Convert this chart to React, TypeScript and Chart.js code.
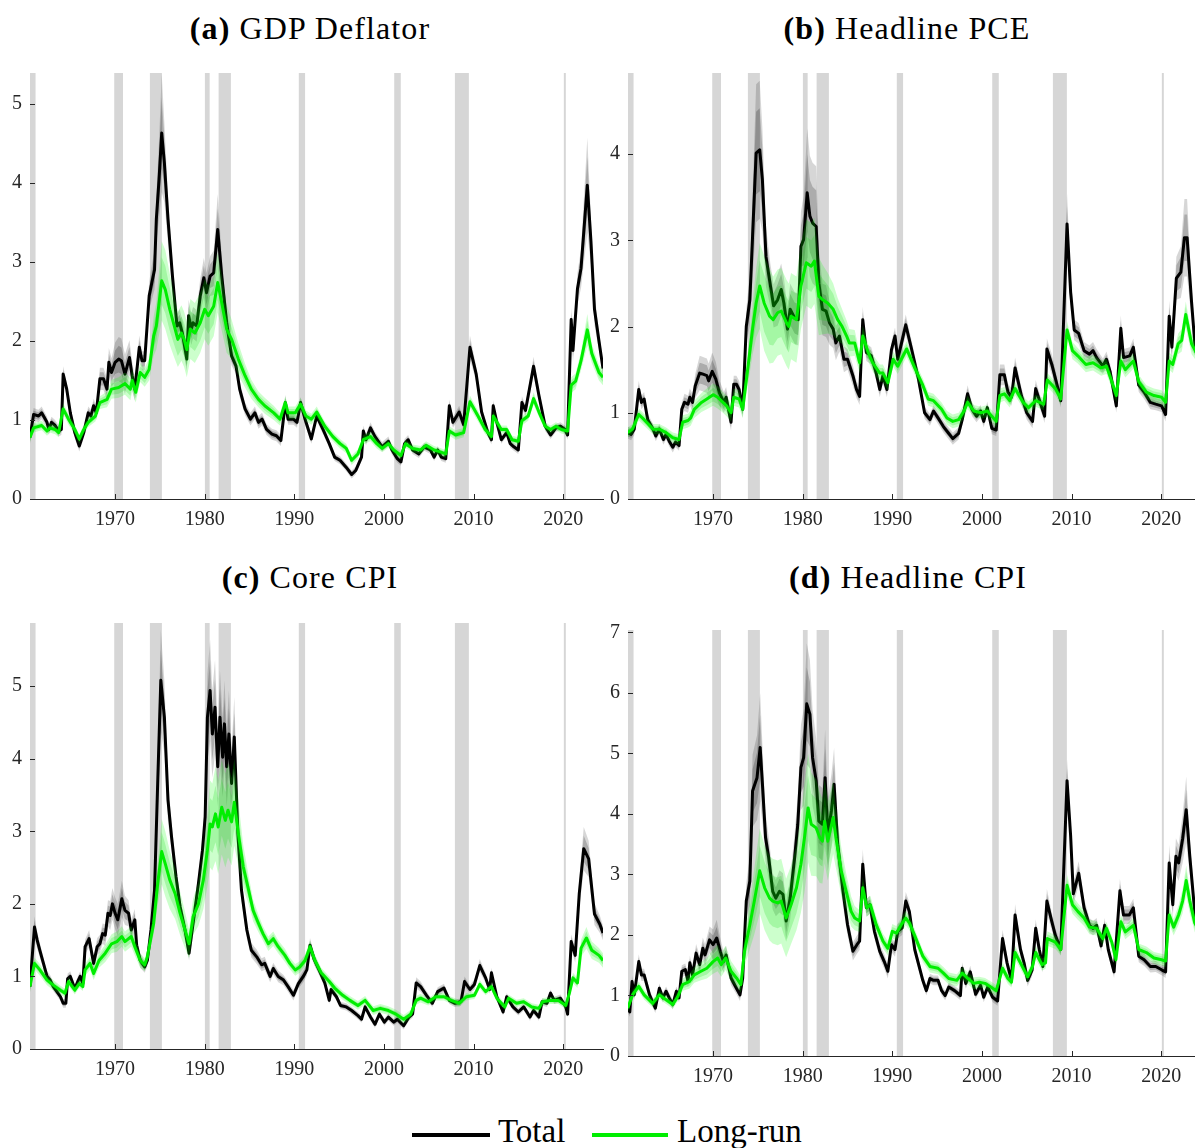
import React, { useEffect, useRef } from 'react';
import { Chart, registerables } from 'chart.js';

Chart.register(...registerables);

// ---------- shared ----------
const RECESSIONS: number[][] = [
  [1960.25, 1961.12], [1969.9, 1970.88], [1973.88, 1975.22], [1980.02, 1980.55],
  [1981.55, 1982.92], [1990.5, 1991.2], [2001.15, 2001.88], [2007.92, 2009.48], [2020.08, 2020.3],
];
const X_TICKS = [1970, 1980, 1990, 2000, 2010, 2020];
const X_MIN = 1960.5;
const X_MAX = 2024.45;
const INNER = 0.6; // inner (68%) band relative to outer (90%) band

// ---------- (a) GDP Deflator ----------
const yearsTotalA = [1960.5,1960.9,1961.45,1961.8,1962.4,1962.6,1962.9,1963.3,1963.7,1964.0,
1964.2,1964.6,1965.0,1965.5,1966.0,1966.5,1967.0,1967.3,1967.6,1967.9,
1968.3,1968.7,1969.1,1969.3,1969.6,1970.0,1970.4,1970.7,1971.1,1971.6,
1971.9,1972.2,1972.7,1973.0,1973.3,1973.8,1974.1,1974.4,1974.6,1974.9,
1975.2,1975.5,1975.9,1976.4,1976.9,1977.2,1977.5,1978.0,1978.2,1978.5,
1978.7,1979.1,1979.5,1979.9,1980.2,1980.6,1981.0,1981.45,1981.9,1982.45,
1983.0,1983.5,1983.9,1984.5,1985.1,1985.6,1986.0,1986.4,1986.9,1987.5,
1988.0,1988.5,1989.0,1989.3,1989.9,1990.3,1990.7,1991.2,1991.9,1992.5,
1993.2,1993.9,1994.5,1995.1,1995.8,1996.4,1996.85,1997.5,1997.7,1998.0,
1998.5,1999.0,1999.8,2000.5,2000.9,2001.5,2001.9,2002.3,2002.7,2003.2,
2003.9,2004.5,2005.2,2005.6,2006.0,2006.4,2006.9,2007.3,2007.7,2008.4,
2008.9,2009.6,2010.3,2010.9,2011.6,2012.0,2012.2,2012.6,2013.1,2013.7,
2014.1,2014.5,2015.0,2015.4,2015.8,2016.7,2017.3,2018.0,2018.6,2019.2,
2019.7,2020.2,2020.5,2020.9,2021.1,2021.6,2022.0,2022.7,2023.1,2023.5,
2024.0,2024.45];
const totalA = [0.78,1.07,1.05,1.09,0.97,0.88,0.97,0.93,0.86,0.88,
1.58,1.39,1.09,0.84,0.67,0.84,1.09,1.05,1.18,1.09,
1.52,1.52,1.39,1.73,1.6,1.73,1.77,1.75,1.58,1.79,
1.56,1.39,1.92,1.75,1.75,2.57,2.74,2.9,3.54,4.04,
4.63,4.25,3.54,2.82,2.19,2.23,2.1,1.77,2.32,2.15,
2.23,2.19,2.57,2.8,2.61,2.82,2.86,3.41,2.82,2.23,
1.81,1.68,1.39,1.14,1.01,1.09,0.97,1.01,0.88,0.82,
0.8,0.74,1.22,1.01,1.01,0.97,1.22,1.01,0.76,1.05,
0.88,0.7,0.53,0.49,0.4,0.31,0.36,0.53,0.86,0.75,
0.9,0.79,0.66,0.73,0.62,0.51,0.47,0.7,0.75,0.62,
0.57,0.66,0.62,0.53,0.62,0.53,0.51,1.18,0.97,1.1,
0.94,1.92,1.58,1.1,0.84,0.75,1.18,0.97,0.75,0.84,
0.7,0.66,0.62,1.22,1.12,1.68,1.31,0.92,0.81,0.9,
0.92,0.88,0.81,2.27,1.88,2.66,2.92,3.97,3.27,2.4,
2.0,1.65];
const bandTotalA = [.08,.08,.08,.08,.07,.07,.07,.07,.07,.07,
.1,.09,.08,.07,.07,.07,.08,.08,.09,.09,
.14,.14,.14,.18,.18,.25,.28,.28,.25,.22,
.18,.15,.15,.12,.12,.18,.22,.25,.3,.5,
.75,.5,.3,.2,.15,.17,.17,.15,.2,.2,
.2,.2,.22,.25,.25,.25,.28,.45,.25,.15,
.12,.1,.1,.08,.08,.08,.08,.08,.07,.07,
.07,.07,.1,.07,.07,.07,.07,.07,.06,.06,
.06,.05,.05,.05,.05,.05,.05,.05,.07,.07,
.07,.06,.06,.06,.06,.05,.05,.06,.06,.05,
.05,.05,.05,.05,.05,.05,.05,.08,.07,.08,
.07,.15,.1,.07,.06,.06,.07,.06,.05,.05,
.05,.05,.05,.08,.07,.12,.08,.06,.05,.05,
.05,.05,.06,.15,.15,.2,.25,.6,.3,.2,
.12,.1];
const yearsLongA = [1960.5,1960.9,1961.8,1962.4,1962.7,1963.3,1963.7,1964.2,1964.8,1965.5,
1966.0,1966.5,1967.0,1967.8,1968.3,1969.1,1969.6,1970.4,1971.1,1971.7,
1971.9,1972.3,1972.8,1973.3,1973.8,1974.3,1974.6,1975.2,1975.6,1976.1,
1976.6,1977.0,1977.4,1977.7,1978.0,1978.4,1978.9,1979.5,1980.0,1980.4,
1981.0,1981.45,1981.9,1982.45,1983.0,1983.75,1984.5,1985.2,1986.0,1986.7,
1987.7,1988.4,1989.0,1989.3,1990.1,1990.7,1991.3,1991.9,1992.5,1993.4,
1994.3,1995.1,1995.8,1996.4,1997.1,1997.7,1998.5,1999.2,1999.8,2000.5,
2001.1,2001.9,2002.4,2003.2,2004.1,2004.7,2005.6,2006.2,2006.9,2007.3,
2008.0,2008.9,2009.6,2010.5,2011.3,2012.0,2012.2,2013.1,2013.7,2014.3,
2015.0,2015.4,2016.1,2016.7,2017.3,2018.0,2018.6,2019.2,2019.8,2020.5,
2020.9,2021.4,2022.0,2022.7,2023.2,2024.0,2024.45];
const longA = [0.78,0.9,0.93,0.86,0.9,0.88,0.84,1.14,1.01,0.88,
0.76,0.88,0.97,1.05,1.22,1.26,1.39,1.41,1.46,1.39,
1.5,1.35,1.6,1.54,1.64,2.06,2.19,2.76,2.65,2.4,
2.19,2.02,2.1,2.02,1.89,2.15,2.1,2.23,2.4,2.32,
2.44,2.74,2.48,2.15,2.02,1.77,1.56,1.39,1.26,1.18,
1.09,1.01,1.22,1.09,1.09,1.2,1.05,1.01,1.1,0.92,
0.79,0.7,0.64,0.49,0.57,0.75,0.79,0.7,0.64,0.7,
0.62,0.55,0.7,0.64,0.62,0.68,0.62,0.6,0.57,0.86,
0.81,0.84,1.23,1.05,0.88,0.79,1.05,0.88,0.88,0.75,
0.73,0.99,1.05,1.27,1.1,0.92,0.88,0.92,0.88,0.86,
1.44,1.49,1.75,2.14,1.84,1.6,1.54];
const bandLongA = [.06,.06,.06,.06,.06,.06,.06,.07,.07,.06,
.06,.06,.06,.07,.08,.1,.12,.13,.14,.14,
.14,.13,.12,.12,.14,.25,.3,.5,.5,.45,
.4,.35,.35,.35,.35,.38,.38,.38,.38,.38,
.38,.38,.35,.3,.25,.2,.15,.12,.1,.1,
.09,.08,.08,.08,.08,.08,.07,.07,.07,.06,
.06,.06,.06,.06,.06,.06,.06,.06,.05,.05,
.05,.05,.05,.05,.05,.05,.05,.05,.05,.06,
.06,.06,.08,.07,.06,.05,.06,.05,.05,.05,
.05,.06,.06,.08,.06,.05,.05,.05,.05,.05,
.1,.1,.12,.2,.12,.1,.1];

// ---------- (b) Headline PCE ----------
const yearsTotalB = [1960.47,1960.85,1961.2,1961.7,1962.0,1962.3,1962.7,1963.3,1963.6,1964.0,
1964.45,1964.75,1965.1,1965.5,1965.8,1966.2,1966.5,1966.8,1967.2,1967.4,
1967.7,1968.0,1968.5,1968.8,1969.3,1969.5,1969.9,1970.3,1970.7,1971.2,
1971.45,1972.0,1972.3,1972.6,1972.9,1973.3,1973.7,1974.1,1974.4,1974.8,
1975.2,1975.5,1975.9,1976.4,1976.75,1977.2,1977.6,1977.9,1978.3,1978.6,
1979.1,1979.5,1979.8,1980.1,1980.5,1980.8,1981.1,1981.5,1981.8,1982.2,
1982.6,1983.0,1983.4,1983.7,1984.1,1984.6,1985.0,1985.6,1986.0,1986.35,
1986.7,1987.1,1987.65,1988.2,1988.6,1988.95,1989.4,1989.9,1990.3,1990.6,
1991.5,1992.1,1992.9,1993.6,1994.2,1994.6,1995.1,1995.7,1996.3,1996.75,
1997.4,1997.8,1998.4,1998.9,1999.4,1999.85,2000.2,2000.6,2001.1,2001.6,
2002.0,2002.5,2002.9,2003.3,2003.7,2004.4,2005.0,2005.65,2006.0,2006.5,
2007.0,2007.25,2007.8,2008.2,2008.8,2009.5,2009.9,2010.3,2010.8,2011.4,
2012.0,2012.4,2012.8,2013.5,2013.9,2014.3,2015.0,2015.5,2015.8,2016.5,
2016.9,2017.5,2018.1,2018.8,2019.4,2020.05,2020.5,2020.9,2021.2,2021.7,
2022.2,2022.6,2022.9,2023.4,2023.8,2024.45];
const totalB = [0.77,0.75,0.81,1.27,1.12,1.16,0.92,0.81,0.73,0.81,
0.69,0.75,0.67,0.6,0.66,0.62,1.04,1.12,1.1,1.18,
1.12,1.31,1.46,1.45,1.43,1.37,1.48,1.39,1.23,1.12,
1.18,0.89,1.33,1.33,1.27,1.04,2.0,2.31,3.04,4.01,
4.05,3.7,2.81,2.47,2.24,2.31,2.43,2.27,1.97,2.2,
2.1,2.08,2.93,3.01,3.55,3.28,3.2,3.16,2.5,2.2,
2.18,2.04,1.97,1.81,1.89,1.62,1.62,1.43,1.27,1.19,
2.08,1.7,1.66,1.46,1.27,1.43,1.27,1.73,1.89,1.62,
2.02,1.76,1.4,1.0,0.92,1.02,0.94,0.84,0.76,0.7,
0.76,0.92,1.22,1.04,0.96,1.02,0.9,1.06,0.82,0.8,
1.44,1.44,1.24,1.18,1.52,1.2,1.0,0.9,1.28,1.12,
0.96,1.74,1.56,1.4,1.14,3.19,2.4,1.96,1.92,1.72,
1.68,1.72,1.64,1.54,1.62,1.48,1.08,1.98,1.64,1.66,
1.76,1.32,1.24,1.12,1.1,1.08,0.98,2.12,1.76,2.56,
2.63,3.03,3.03,2.28,1.75,1.5];
const bandTotalB = [.07,.07,.07,.1,.08,.08,.07,.06,.06,.06,
.06,.06,.06,.06,.06,.06,.08,.1,.1,.1,
.1,.14,.2,.2,.2,.2,.22,.2,.15,.12,
.12,.1,.1,.1,.1,.1,.2,.3,.5,.8,
.8,.6,.35,.25,.25,.3,.3,.3,.25,.3,
.3,.3,.4,.5,.75,.7,.7,.7,.4,.3,
.3,.25,.22,.2,.18,.15,.12,.12,.1,.1,
.15,.1,.1,.09,.09,.09,.09,.1,.1,.1,
.12,.1,.08,.07,.07,.07,.07,.07,.07,.07,
.07,.07,.1,.08,.07,.07,.07,.07,.07,.07,
.12,.12,.1,.1,.12,.1,.08,.08,.1,.08,
.08,.12,.12,.1,.08,.35,.2,.12,.12,.1,
.1,.1,.1,.09,.09,.09,.08,.15,.1,.1,
.1,.08,.08,.08,.07,.07,.08,.18,.15,.25,
.3,.45,.45,.2,.12,.1];
const yearsLongB = [1960.47,1961.0,1961.7,1962.3,1963.3,1964.0,1964.75,1965.5,1966.2,1966.6,
1967.2,1967.5,1967.9,1968.7,1969.3,1970.0,1970.5,1971.1,1971.5,1972.0,
1972.3,1972.9,1973.3,1973.9,1974.4,1974.8,1975.2,1975.7,1976.3,1976.7,
1977.2,1977.6,1978.2,1978.45,1978.7,1979.3,1979.8,1980.4,1980.95,1981.3,
1981.8,1982.25,1982.8,1983.4,1983.9,1984.4,1984.9,1985.2,1985.8,1986.35,
1986.7,1987.3,1987.8,1988.6,1988.95,1989.5,1990.1,1990.6,1991.6,1992.5,
1993.4,1994.0,1994.6,1995.5,1996.1,1996.75,1997.4,1998.0,1998.4,1999.1,
1999.9,2000.6,2001.6,2002.0,2002.5,2003.1,2003.7,2004.6,2005.2,2006.0,
2006.9,2007.3,2008.2,2008.8,2009.5,2010.1,2010.7,2011.6,2012.4,2013.3,
2013.9,2014.5,2015.0,2015.5,2016.0,2016.9,2017.5,2018.35,2019.2,2020.05,
2020.5,2020.9,2021.3,2021.9,2022.3,2022.75,2023.4,2023.8,2024.45];
const longB = [0.77,0.81,0.98,0.92,0.81,0.81,0.77,0.71,0.69,0.89,
0.91,0.94,1.04,1.12,1.16,1.21,1.18,1.12,1.08,1.0,
1.18,1.16,1.04,1.54,1.97,2.27,2.47,2.27,2.12,2.08,
2.16,2.18,2.04,2.0,2.12,2.08,2.47,2.74,2.7,2.76,
2.35,2.31,2.27,2.2,2.08,2.0,1.89,1.81,1.81,1.58,
1.89,1.7,1.58,1.46,1.46,1.35,1.62,1.54,1.74,1.52,
1.32,1.16,1.14,1.04,0.94,0.9,0.92,1.02,1.12,1.02,
1.0,1.02,0.9,1.2,1.22,1.14,1.28,1.12,1.06,1.14,
1.1,1.38,1.28,1.16,1.96,1.72,1.66,1.56,1.58,1.52,
1.54,1.36,1.2,1.6,1.5,1.6,1.36,1.24,1.2,1.18,
1.12,1.6,1.56,1.8,1.84,2.14,1.8,1.72,1.6];
const bandLongB = [.06,.06,.07,.07,.06,.06,.06,.06,.06,.08,
.08,.09,.1,.11,.12,.13,.13,.12,.12,.1,
.1,.1,.1,.2,.3,.4,.5,.55,.55,.5,
.5,.5,.5,.5,.5,.5,.5,.5,.5,.5,
.45,.4,.35,.3,.25,.2,.18,.16,.15,.12,
.12,.1,.1,.1,.1,.09,.09,.09,.09,.08,
.08,.08,.08,.08,.08,.08,.08,.08,.08,.07,
.07,.07,.07,.08,.08,.08,.08,.07,.07,.07,
.07,.08,.08,.07,.1,.1,.09,.09,.09,.09,
.09,.08,.08,.09,.09,.09,.08,.08,.08,.08,
.08,.1,.1,.12,.13,.15,.12,.1,.1];

// ---------- (c) Core CPI ----------
const yearsTotalC = [1960.5,1960.8,1961.0,1961.3,1961.6,1962.0,1962.4,1962.75,1963.1,1963.5,
1963.9,1964.2,1964.5,1964.7,1965.0,1965.5,1965.9,1966.1,1966.4,1966.65,
1967.1,1967.6,1968.0,1968.3,1968.6,1968.9,1969.2,1969.45,1969.7,1970.0,
1970.3,1970.75,1971.1,1971.5,1971.8,1972.2,1972.4,1972.8,1973.3,1973.6,
1974.0,1974.4,1974.75,1975.1,1975.5,1975.9,1976.3,1976.8,1977.25,1977.8,
1978.25,1978.7,1979.3,1979.75,1980.05,1980.3,1980.6,1980.85,1981.15,1981.45,
1981.7,1982.0,1982.2,1982.45,1982.7,1983.0,1983.3,1983.7,1984.1,1984.7,
1985.2,1985.8,1986.35,1986.7,1987.3,1987.65,1988.2,1988.8,1989.3,1989.9,
1990.45,1991.0,1991.4,1991.75,1992.2,1992.8,1993.4,1993.9,1994.1,1994.7,
1995.15,1995.8,1996.4,1997.1,1997.5,1997.9,1998.5,1999.0,1999.5,2000.05,
2000.5,2001.1,2001.5,2002.2,2002.8,2003.2,2003.6,2004.1,2004.75,2005.4,
2006.0,2006.7,2007.3,2007.9,2008.6,2009.0,2009.6,2010.1,2010.7,2011.35,
2011.8,2012.0,2012.6,2013.3,2013.7,2014.4,2015.0,2015.6,2016.3,2016.7,
2017.3,2017.65,2018.2,2018.6,2019.0,2019.7,2020.3,2020.5,2020.9,2021.35,
2021.8,2022.3,2022.85,2023.5,2024.1,2024.45];
const totalC = [0.86,1.36,1.68,1.5,1.36,1.18,1.0,0.95,0.86,0.79,
0.72,0.63,0.63,0.97,1.0,0.83,0.95,1.0,0.9,1.41,
1.52,1.18,1.41,1.45,1.59,1.57,1.87,1.84,2.0,1.87,
1.78,2.07,1.91,1.87,1.64,1.78,1.43,1.22,1.13,1.22,
1.64,2.19,3.66,5.08,4.57,3.43,2.92,2.37,1.96,1.64,
1.32,1.73,2.28,2.74,3.2,4.57,4.94,4.34,4.71,3.89,
4.57,4.02,4.48,3.89,4.34,3.66,4.3,2.97,2.19,1.64,
1.36,1.27,1.16,1.18,1.0,1.11,1.0,0.95,0.86,0.74,
0.9,1.0,1.09,1.43,1.24,1.08,0.91,0.67,0.82,0.72,
0.6,0.58,0.53,0.46,0.41,0.58,0.44,0.34,0.48,0.37,
0.44,0.37,0.41,0.32,0.44,0.48,0.91,0.86,0.74,0.63,
0.79,0.84,0.67,0.63,0.65,0.93,0.82,0.89,1.15,0.98,
0.82,1.05,0.72,0.51,0.72,0.58,0.51,0.58,0.44,0.53,
0.44,0.65,0.63,0.77,0.67,0.7,0.58,0.48,1.48,1.29,
2.14,2.76,2.62,1.86,1.72,1.6];
const bandTotalC = [.08,.12,.15,.12,.1,.08,.07,.07,.06,.06,
.06,.06,.06,.07,.07,.06,.07,.07,.07,.1,
.12,.1,.12,.12,.14,.15,.18,.2,.22,.22,
.22,.25,.2,.18,.15,.15,.12,.1,.08,.08,
.12,.2,.4,.7,.5,.3,.2,.15,.12,.1,
.1,.12,.15,.2,.3,.6,.7,.6,.65,.55,
.65,.55,.6,.55,.6,.5,.55,.3,.15,.12,
.1,.1,.09,.09,.08,.08,.08,.07,.07,.07,
.07,.08,.08,.1,.08,.07,.06,.05,.05,.05,
.05,.05,.05,.05,.05,.05,.05,.05,.05,.05,
.05,.05,.05,.05,.05,.05,.08,.07,.06,.05,
.06,.06,.05,.05,.05,.07,.06,.07,.09,.07,
.06,.07,.05,.05,.05,.05,.05,.05,.05,.05,
.05,.05,.05,.05,.05,.05,.05,.05,.1,.1,
.2,.3,.25,.15,.12,.1];
const yearsLongC = [1960.5,1961.0,1961.6,1962.4,1963.1,1963.9,1964.4,1964.8,1965.5,1966.0,
1966.4,1966.65,1967.2,1967.6,1968.2,1968.9,1969.6,1970.2,1970.75,1971.1,
1971.8,1972.2,1972.8,1973.3,1973.6,1974.3,1974.75,1975.2,1975.6,1976.1,
1976.7,1977.25,1977.8,1978.25,1978.7,1979.3,1979.85,1980.3,1980.6,1980.85,
1981.2,1981.5,1981.9,1982.3,1982.6,1983.0,1983.3,1983.75,1984.3,1984.9,
1985.4,1986.0,1986.5,1987.1,1987.65,1988.2,1988.95,1989.5,1990.1,1990.6,
1991.2,1991.75,1992.3,1993.0,1993.9,1994.5,1995.4,1996.2,1997.1,1997.9,
1998.8,1999.6,2000.5,2001.35,2002.2,2003.0,2003.6,2004.1,2004.95,2005.8,
2006.7,2007.5,2008.4,2009.2,2010.1,2010.7,2011.35,2012.0,2012.6,2013.5,
2013.9,2014.8,2015.6,2016.5,2017.3,2017.7,2018.6,2019.45,2020.3,2020.7,
2021.1,2021.6,2022.0,2022.6,2023.2,2024.0,2024.45];
const longC = [0.86,1.18,1.09,0.95,0.88,0.81,0.77,0.93,0.81,0.9,
0.86,1.09,1.18,1.04,1.22,1.32,1.45,1.48,1.55,1.48,
1.55,1.41,1.22,1.16,1.27,1.73,2.28,2.72,2.55,2.33,
2.14,1.87,1.64,1.45,1.82,2.0,2.33,2.74,3.1,3.06,
3.24,3.06,3.33,3.15,3.29,3.13,3.4,2.97,2.51,2.19,
1.91,1.73,1.59,1.45,1.52,1.41,1.29,1.18,1.09,1.13,
1.22,1.41,1.22,1.05,0.93,0.84,0.74,0.67,0.6,0.67,
0.53,0.56,0.53,0.48,0.41,0.48,0.67,0.7,0.65,0.72,
0.72,0.67,0.63,0.72,0.74,0.89,0.79,0.86,0.7,0.58,
0.7,0.63,0.65,0.58,0.56,0.65,0.67,0.67,0.6,0.77,
0.98,0.91,1.39,1.53,1.36,1.29,1.22];
const bandLongC = [.07,.08,.08,.07,.07,.06,.06,.06,.06,.06,
.06,.08,.09,.09,.1,.12,.13,.14,.14,.14,
.14,.12,.1,.09,.09,.15,.3,.45,.45,.4,
.35,.3,.25,.2,.25,.3,.4,.5,.6,.6,
.65,.65,.65,.65,.65,.6,.6,.45,.3,.2,
.15,.12,.1,.1,.1,.09,.09,.08,.08,.08,
.08,.09,.08,.07,.07,.07,.06,.06,.06,.06,
.06,.06,.06,.06,.06,.06,.06,.06,.05,.05,
.05,.05,.05,.05,.05,.06,.05,.05,.05,.05,
.05,.05,.05,.05,.05,.05,.05,.05,.05,.06,
.07,.07,.12,.15,.12,.1,.1];

// ---------- (d) Headline CPI ----------
const yearsTotalD = [1960.47,1960.7,1960.95,1961.2,1961.7,1962.0,1962.3,1962.9,1963.55,1964.0,
1964.4,1964.75,1965.1,1965.5,1965.9,1966.2,1966.5,1966.9,1967.2,1967.4,
1967.7,1968.1,1968.5,1968.85,1969.1,1969.6,1970.0,1970.4,1970.8,1971.15,
1971.45,1972.0,1972.6,1973.0,1973.3,1973.7,1974.1,1974.4,1974.9,1975.25,
1975.55,1975.85,1976.2,1976.65,1977.0,1977.4,1977.8,1978.15,1978.6,1979.1,
1979.45,1979.8,1980.1,1980.45,1980.8,1981.1,1981.5,1981.8,1982.2,1982.5,
1982.8,1983.2,1983.5,1983.9,1984.5,1985.0,1985.6,1986.05,1986.35,1986.7,
1987.1,1987.5,1988.0,1988.6,1989.1,1989.5,1989.9,1990.3,1990.6,1991.1,
1991.5,1991.9,1992.5,1993.4,1993.8,1994.2,1994.6,1995.1,1995.5,1995.9,
1996.3,1996.95,1997.6,1997.8,1998.2,1998.7,1999.3,1999.85,2000.2,2000.65,
2001.2,2001.75,2002.3,2002.8,2003.3,2003.7,2004.3,2004.7,2005.1,2005.6,
2006.0,2006.4,2006.8,2007.25,2007.8,2008.2,2008.8,2009.5,2009.9,2010.2,
2010.8,2011.4,2012.0,2012.4,2012.8,2013.3,2013.7,2014.1,2014.75,2015.4,
2015.8,2016.45,2016.9,2017.5,2018.1,2018.8,2019.4,2020.1,2020.5,2020.9,
2021.3,2021.65,2021.95,2022.4,2022.8,2023.2,2023.8,2024.45];
const totalD = [0.79,0.73,1.23,1.01,1.56,1.34,1.34,1.01,0.79,1.12,
0.96,1.07,0.96,0.85,1.07,0.96,1.4,1.43,1.23,1.54,
1.34,1.7,1.51,1.78,1.67,1.92,1.84,1.95,1.73,1.56,
1.67,1.29,1.12,1.01,1.29,2.56,2.89,4.38,4.6,5.1,
4.38,3.61,3.28,2.72,2.61,2.72,2.67,2.23,2.61,3.28,
3.83,4.77,4.93,5.82,5.65,4.93,4.55,3.88,3.83,4.6,
3.66,4.05,4.49,3.5,2.72,2.17,1.73,1.84,1.9,3.17,
2.45,2.5,2.06,1.73,1.56,1.4,1.84,1.76,2.06,2.12,
2.56,2.39,1.76,1.25,1.08,1.28,1.25,1.25,1.08,1.0,
1.14,1.08,1.0,1.45,1.2,1.39,1.02,1.17,0.97,1.14,
0.97,0.91,1.94,1.54,1.25,2.33,1.76,1.54,1.25,1.42,
2.11,1.76,1.48,2.56,2.22,1.99,1.76,4.55,3.64,2.68,
3.02,2.45,2.16,2.11,2.16,1.82,2.16,1.76,1.39,2.73,
2.33,2.33,2.45,1.65,1.59,1.48,1.48,1.42,1.39,3.19,
2.5,3.3,3.19,3.59,4.07,3.3,2.3,2.0];
const bandTotalD = [.08,.08,.1,.09,.12,.1,.1,.08,.08,.08,
.08,.08,.08,.08,.08,.08,.1,.1,.1,.12,
.12,.15,.15,.18,.18,.22,.25,.3,.22,.18,
.15,.12,.1,.1,.12,.3,.4,.6,.7,.9,
.6,.4,.35,.3,.3,.35,.35,.3,.35,.4,
.5,.7,.8,1.0,.9,.8,.7,.6,.6,.8,
.6,.6,.6,.4,.25,.18,.15,.15,.15,.25,
.15,.15,.12,.12,.12,.12,.12,.12,.12,.12,
.15,.15,.1,.09,.08,.08,.08,.08,.08,.08,
.08,.08,.08,.1,.09,.1,.08,.08,.08,.08,
.08,.08,.15,.12,.1,.18,.12,.1,.1,.1,
.15,.12,.1,.2,.15,.12,.1,.35,.25,.18,
.2,.15,.12,.12,.12,.1,.12,.1,.1,.2,
.15,.15,.15,.1,.1,.1,.09,.09,.1,.3,
.2,.3,.3,.4,.55,.3,.18,.15];
const yearsLongD = [1960.47,1961.0,1961.7,1962.3,1963.25,1964.0,1964.75,1965.5,1966.05,1966.6,
1967.35,1967.9,1968.65,1969.3,1970.0,1970.5,1970.9,1971.4,1972.0,1972.6,
1973.1,1973.5,1974.1,1974.6,1975.2,1975.75,1976.3,1976.65,1977.2,1977.6,
1978.15,1978.7,1979.3,1979.8,1980.2,1980.6,1980.95,1981.5,1981.9,1982.2,
1982.45,1982.8,1983.4,1983.7,1984.3,1984.85,1985.4,1985.8,1986.35,1986.7,
1987.15,1987.55,1988.2,1988.95,1989.5,1990.0,1990.45,1991.0,1991.5,1991.9,
1992.5,1993.4,1994.2,1995.1,1995.7,1996.3,1997.2,1997.8,1998.45,1999.1,
1999.7,2000.35,2001.0,2001.6,2002.3,2002.9,2003.3,2003.7,2004.4,2005.1,
2005.65,2006.0,2006.7,2007.1,2007.3,2008.2,2008.8,2009.5,2010.1,2010.7,
2011.4,2012.0,2012.8,2013.5,2013.9,2014.5,2014.95,2015.5,2016.0,2016.9,
2017.5,2018.35,2019.2,2020.05,2020.5,2020.9,2021.4,2021.95,2022.4,2022.8,
2023.2,2023.75,2024.45];
const longD = [0.79,1.01,1.15,1.01,0.87,1.01,0.93,0.85,0.98,1.18,
1.23,1.34,1.4,1.45,1.56,1.62,1.51,1.62,1.4,1.29,
1.18,1.73,2.17,2.56,3.06,2.78,2.61,2.56,2.53,2.56,
2.28,2.5,2.78,3.17,3.61,4.1,3.83,3.77,3.61,3.55,
3.88,3.55,3.94,3.61,3.06,2.72,2.39,2.28,2.23,2.78,
2.45,2.5,2.17,1.9,1.78,2.06,2.03,2.17,2.28,2.2,
1.99,1.65,1.48,1.45,1.37,1.28,1.25,1.37,1.28,1.2,
1.22,1.2,1.14,1.08,1.45,1.28,1.22,1.71,1.51,1.31,
1.48,1.71,1.51,1.54,1.94,1.88,1.76,2.82,2.5,2.39,
2.28,2.13,2.11,1.94,2.11,1.88,1.59,2.22,2.05,2.16,
1.76,1.71,1.62,1.59,1.57,2.33,2.13,2.33,2.56,2.9,
2.56,2.2,2.0];
const bandLongD = [.07,.08,.08,.08,.07,.07,.07,.07,.08,.1,
.12,.13,.15,.17,.2,.22,.2,.2,.17,.15,
.13,.25,.4,.55,.7,.7,.7,.7,.7,.7,
.65,.65,.7,.8,.9,.9,.85,.8,.75,.7,
.7,.65,.6,.5,.4,.3,.25,.2,.18,.18,
.15,.15,.13,.12,.12,.12,.12,.12,.12,.12,
.11,.1,.1,.1,.1,.1,.1,.1,.1,.1,
.09,.09,.09,.09,.1,.09,.09,.11,.1,.09,
.09,.11,.1,.1,.12,.11,.1,.18,.15,.14,
.13,.12,.12,.11,.11,.1,.1,.12,.12,.12,
.1,.1,.1,.1,.1,.15,.14,.16,.2,.25,
.2,.15,.13];

// ---------- styling ----------
const AXIS = '#262626';
const FONT = '"Liberation Serif", "Times New Roman", serif';
const GRAY_OUT = 'rgba(0,0,0,0.16)';
const GRAY_IN = 'rgba(0,0,0,0.2)';
const GREEN_OUT = 'rgba(0,255,0,0.2)';
const GREEN_IN = 'rgba(0,215,0,0.2)';
const GREEN = 'rgb(0,238,0)';
const RECESSION_FILL = 'rgb(214,214,214)';
const CW = 610;
const CH = 480;

type Panel = {
  tag: string; name: string; yMax: number; yTicks: number[];
  left: number; top: number; titleX: number; titleY: number;
  tY: number[]; tV: number[]; tB: number[]; lY: number[]; lV: number[]; lB: number[];
};

const PANELS: Panel[] = [
  { tag: '(a)', name: 'GDP Deflator', yMax: 5.39, yTicks: [0, 1, 2, 3, 4, 5], left: 0, top: 60, titleX: 310, titleY: 12,
    tY: yearsTotalA, tV: totalA, tB: bandTotalA, lY: yearsLongA, lV: longA, lB: bandLongA },
  { tag: '(b)', name: 'Headline PCE', yMax: 4.94, yTicks: [0, 1, 2, 3, 4], left: 598, top: 60, titleX: 907, titleY: 12,
    tY: yearsTotalB, tV: totalB, tB: bandTotalB, lY: yearsLongB, lV: longB, lB: bandLongB },
  { tag: '(c)', name: 'Core CPI', yMax: 5.87, yTicks: [0, 1, 2, 3, 4, 5], left: 0, top: 610, titleX: 310, titleY: 561,
    tY: yearsTotalC, tV: totalC, tB: bandTotalC, lY: yearsLongC, lV: longC, lB: bandLongC },
  { tag: '(d)', name: 'Headline CPI', yMax: 7.04, yTicks: [0, 1, 2, 3, 4, 5, 6, 7], left: 598, top: 617, titleX: 908, titleY: 561,
    tY: yearsTotalD, tV: totalD, tB: bandTotalD, lY: yearsLongD, lV: longD, lB: bandLongD },
];

const recessionPlugin = {
  id: 'recessions',
  beforeDatasetsDraw(chart: any) {
    const { ctx, chartArea: a, scales } = chart;
    const x = scales.x;
    ctx.save();
    ctx.beginPath();
    ctx.rect(a.left, a.top, a.right - a.left, a.bottom - a.top);
    ctx.clip();
    ctx.fillStyle = RECESSION_FILL;
    for (const [s, e] of RECESSIONS) {
      const x0 = x.getPixelForValue(s);
      const x1 = x.getPixelForValue(e);
      ctx.fillRect(x0, a.top, Math.max(1.5, x1 - x0), a.bottom - a.top);
    }
    ctx.restore();
  },
};

const innerTicksPlugin = {
  id: 'innerTicks',
  afterDraw(chart: any) {
    const { ctx, chartArea: a, scales } = chart;
    ctx.save();
    ctx.strokeStyle = AXIS;
    ctx.lineWidth = 1;
    ctx.beginPath();
    for (const t of scales.x.ticks) {
      const px = Math.round(scales.x.getPixelForValue(t.value)) + 0.5;
      ctx.moveTo(px, a.bottom);
      ctx.lineTo(px, a.bottom - 5);
    }
    for (const t of scales.y.ticks) {
      const py = Math.round(scales.y.getPixelForValue(t.value)) + 0.5;
      ctx.moveTo(a.left, py);
      ctx.lineTo(a.left + 5, py);
    }
    ctx.stroke();
    ctx.restore();
  },
};

function pts(xs: number[], vs: number[], bs: number[] | null, k: number) {
  const n = Math.min(xs.length, vs.length, bs ? bs.length : Infinity);
  const out: { x: number; y: number }[] = [];
  for (let i = 0; i < n; i++) out.push({ x: xs[i], y: vs[i] + (bs ? bs[i] * k : 0) });
  return out;
}

function bandSet(data: any[], color: string | null, fillTo: number | false, order: number) {
  return {
    data,
    fill: fillTo === false ? false : fillTo,
    backgroundColor: color || 'rgba(0,0,0,0)',
    borderColor: 'rgba(0,0,0,0)',
    borderWidth: 0,
    pointRadius: 0,
    order,
  };
}

function buildConfig(p: Panel): any {
  const datasets = [
    bandSet(pts(p.tY, p.tV, p.tB, 1), GRAY_OUT, 1, 10),
    bandSet(pts(p.tY, p.tV, p.tB, -1), null, false, 10),
    bandSet(pts(p.tY, p.tV, p.tB, INNER), GRAY_IN, 3, 9),
    bandSet(pts(p.tY, p.tV, p.tB, -INNER), null, false, 9),
    { label: 'Total', data: pts(p.tY, p.tV, null, 0), borderColor: '#000', borderWidth: 3, pointRadius: 0, fill: false, order: 8 },
    bandSet(pts(p.lY, p.lV, p.lB, 1), GREEN_OUT, 6, 7),
    bandSet(pts(p.lY, p.lV, p.lB, -1), null, false, 7),
    bandSet(pts(p.lY, p.lV, p.lB, INNER), GREEN_IN, 8, 6),
    bandSet(pts(p.lY, p.lV, p.lB, -INNER), null, false, 6),
    { label: 'Long-run', data: pts(p.lY, p.lV, null, 0), borderColor: GREEN, borderWidth: 3, pointRadius: 0, fill: false, order: 5 },
  ];
  return {
    type: 'line',
    data: { datasets },
    plugins: [recessionPlugin, innerTicksPlugin],
    options: {
      animation: false,
      responsive: false,
      devicePixelRatio: 1,
      events: [],
      layout: { padding: { left: 0, right: 7, top: 13, bottom: 0 } },
      elements: { line: { tension: 0, borderJoinStyle: 'round' }, point: { radius: 0 } },
      plugins: { legend: { display: false }, tooltip: { enabled: false }, title: { display: false } },
      scales: {
        x: {
          type: 'linear',
          min: X_MIN,
          max: X_MAX,
          afterBuildTicks: (s: any) => { s.ticks = X_TICKS.map((v) => ({ value: v })); },
          afterFit: (s: any) => { s.height = 41; s.paddingLeft = 0; s.paddingRight = 0; },
          grid: { display: false, drawTicks: false },
          border: { display: true, color: AXIS, width: 1 },
          ticks: { color: AXIS, font: { family: FONT, size: 20 }, padding: 9, maxRotation: 0, autoSkip: false, callback: (v: any) => String(v) },
        },
        y: {
          type: 'linear',
          min: 0,
          max: p.yMax,
          afterBuildTicks: (s: any) => { s.ticks = p.yTicks.map((v) => ({ value: v })); },
          afterFit: (s: any) => { s.width = 30; s.paddingTop = 0; s.paddingBottom = 0; },
          grid: { display: false, drawTicks: false },
          border: { display: true, color: AXIS, width: 1 },
          ticks: { color: AXIS, font: { family: FONT, size: 20 }, padding: 8, autoSkip: false, callback: (v: any) => String(v) },
        },
      },
    },
  };
}

function PanelChart({ p }: { p: Panel }) {
  const ref = useRef<HTMLCanvasElement>(null);
  useEffect(() => {
    if (!ref.current) return;
    const chart = new Chart(ref.current, buildConfig(p));
    return () => chart.destroy();
  }, [p]);
  return (
    <canvas
      ref={ref}
      width={CW}
      height={CH}
      style={{ position: 'absolute', left: p.left, top: p.top, width: CW, height: CH }}
    />
  );
}

export default function App() {
  const titleStyle = (x: number, y: number): React.CSSProperties => ({
    position: 'absolute', left: x - 250, top: y, width: 500, textAlign: 'center',
    fontFamily: FONT, fontSize: 32, lineHeight: '32px', letterSpacing: '1.1px', color: '#000', whiteSpace: 'nowrap',
  });
  const legendText: React.CSSProperties = {
    position: 'absolute', top: 1115, fontFamily: FONT, fontSize: 33, lineHeight: '33px', color: '#000', whiteSpace: 'nowrap',
  };
  return (
    <div style={{ position: 'absolute', left: 0, top: 0, width: 1195, height: 1148, overflow: 'hidden', background: '#fff' }}>
      {PANELS.map((p) => (
        <PanelChart key={p.tag} p={p} />
      ))}
      {PANELS.map((p) => (
        <div key={p.tag + 't'} style={titleStyle(p.titleX, p.titleY)}>
          <b>{p.tag}</b> {p.name}
        </div>
      ))}
      <div style={{ position: 'absolute', left: 412, top: 1133, width: 78, height: 4, background: '#000' }} />
      <div style={{ ...legendText, left: 498 }}>Total</div>
      <div style={{ position: 'absolute', left: 592, top: 1133, width: 76, height: 4, background: GREEN }} />
      <div style={{ ...legendText, left: 677 }}>Long-run</div>
    </div>
  );
}
